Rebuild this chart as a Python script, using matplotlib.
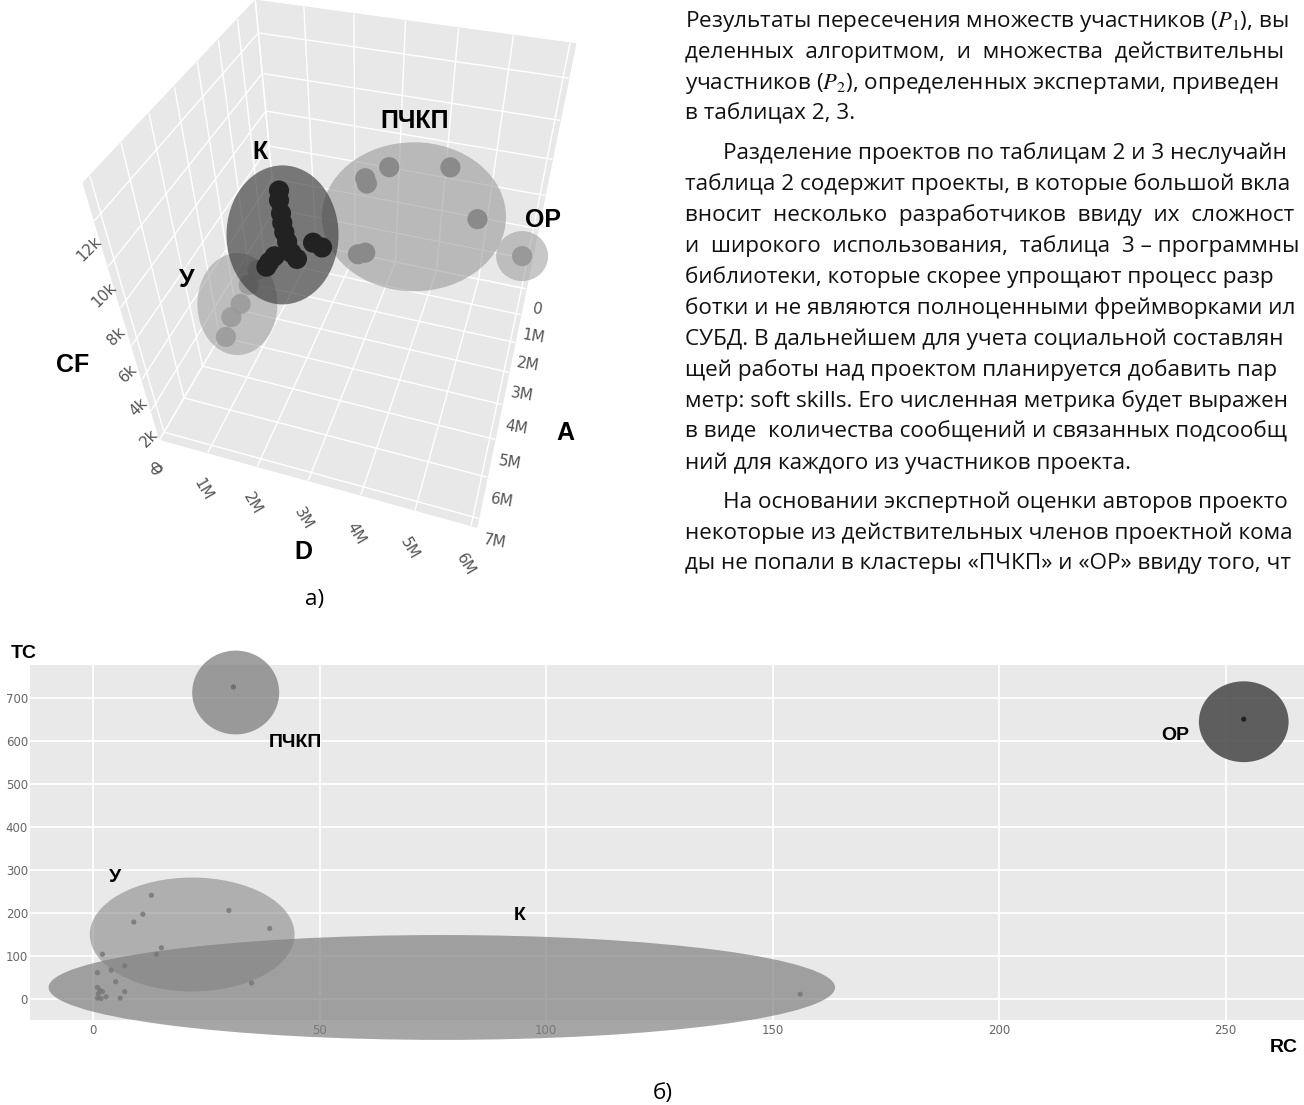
import matplotlib
matplotlib.use("Agg")
import matplotlib.pyplot as plt
from matplotlib.patches import Ellipse
from matplotlib.path import Path
from matplotlib.transforms import Affine2D
from matplotlib.ticker import FuncFormatter, MultipleLocator, NullFormatter
from mpl_toolkits.mplot3d import proj3d

plt.rcParams["mathtext.fontset"] = "stix"
plt.rcParams["grid.color"] = "white"

# ---------------- page text (right column) ----------------
text_lines = [
    "Результаты пересечения множеств участников ($P_1$), вы",
    "деленных  алгоритмом,  и  множества  действительны",
    "участников ($P_2$), определенных экспертами, приведен",
    "в таблицах 2, 3.",
    "Разделение проектов по таблицам 2 и 3 неслучайн",
    "таблица 2 содержит проекты, в которые большой вкла",
    "вносит  несколько  разработчиков  ввиду  их  сложност",
    "и  широкого  использования,  таблица  3 – программны",
    "библиотеки, которые скорее упрощают процесс разр",
    "ботки и не являются полноценными фреймворками ил",
    "СУБД. В дальнейшем для учета социальной составлян",
    "щей работы над проектом планируется добавить пар",
    "метр: soft skills. Его численная метрика будет выражен",
    "в виде  количества сообщений и связанных подсообщ",
    "ний для каждого из участников проекта.",
    "На основании экспертной оценки авторов проекто",
    "некоторые из действительных членов проектной кома",
    "ды не попали в кластеры «ПЧКП» и «ОР» ввиду того, чт",
]
indented = [4, 15]

# ---------------- figure a): 3D scatter D / A / CF ----------------
# values: D and A in millions, CF in thousands
k_d = [0.61, 0.59, 0.61, 0.62, 0.65, 0.70, 0.78, 0.20, 0.35, 0.91, 1.33, 1.54, 0.28]
k_a = [1.2, 1.2, 1.2, 1.2, 1.2, 1.2, 1.2, 1.2, 1.2, 1.2, 1.2, 1.2, 1.6]
k_cf = [5.2, 4.6, 3.8, 3.2, 2.6, 2.0, 1.3, 0.3, 0.8, 0.95, 2.3, 2.1, 0.7]

p_d = [2.82, 4.12, 2.29, 2.33, 4.81, 2.12, 2.30]
p_a = [0.2] * 7
p_cf = [6.3, 6.9, 5.4, 5.1, 4.2, 0.35, 0.57]

u_d = [0.41, 0.61, 0.86, 1.09, 1.31]
u_a = [4.5] * 5
u_cf = [1.3, 2.75, 3.75, 5.05, 6.05]

o_d = [5.9]
o_a = [1.5]
o_cf = [4.6]

# cluster outline centres (D, A, CF) and outline size in px (w, h)
clusters_3d = {
    "У": ((0.79, 4.5, 3.7), (80, 102)),
    "ПЧКП": ((3.42, 0.2, 3.6), (184, 149)),
    "ОР": ((5.9, 1.5, 4.6), (52, 50)),
    "К": ((0.60, 1.2, 2.4), (112, 139)),
}
cf_ticks = [0, 2, 4, 6, 8, 10, 12]

# ---------------- figure б): RC / TC scatter ----------------
rc = [12.9, 11.0, 9.0, 30.0, 39.0, 15.1, 14.0, 2.1, 7.0, 4.0, 1.0, 5.0, 35.0,
      7.0, 6.0, 1.0, 2.1, 1.2, 2.9, 1.8, 1.0, 1.5, 156.1]
tc = [241, 197, 179, 206, 164, 119, 104, 104, 77, 67, 61, 40, 37,
      17, 2, 27, 17, 12, 5, 1, 2, 20, 11]
pchkp_rc, pchkp_tc = [31.0], [726]
or_rc, or_tc = [254.0], [651]

# cluster outlines: centre (RC, TC), width, height (data units)
outlines_2d = [
    ("К", (77.0, 26.7), 173.6, 244, "#808080", 0.70),
    ("У", (21.9, 150.0), 45.2, 265, "#808080", 0.55),
    ("ПЧКП", (31.5, 713.0), 19.2, 195, "#7f7f7f", 0.75),
    ("ОР", (254.0, 645.0), 19.8, 188, "#4f4f4f", 0.90),
]

W, H = 1304, 1105
fig = plt.figure(figsize=(W / 100, H / 100), dpi=100)
fig.patch.set_facecolor("white")


def px(x, y):
    return x / W, 1 - y / H


# ---- text column ----
y = 21
for i, line in enumerate(text_lines):
    if i in indented:
        y += 8
    x0 = 723 if i in indented else 685
    fig.text(*px(x0, y), line, fontsize=16.2, family="Open Sans",
             va="center", ha="left", color="#111111")
    y += 31

# ---- 3D plot ----
ax3 = fig.add_axes([0.0744, 0.5367, 0.3926, 0.4633], projection="3d")
ax3.set_proj_type("persp", focal_length=0.28)
ax3.view_init(elev=42, azim=-73)
ax3.set_xlim(0, 6.1)
ax3.set_ylim(7.2, 0)
ax3.set_zlim(0, 13.5)
ax3.set_box_aspect((1, 1, 1), zoom=1.0925)
ax3.computed_zorder = False
ax3.set_facecolor((1, 1, 1, 0))

for axis in (ax3.xaxis, ax3.yaxis, ax3.zaxis):
    axis.set_pane_color((0.91, 0.91, 0.91, 1.0))
    axis.line.set_color((1, 1, 1, 0))
    axis._axinfo["grid"].update(color="white", linewidth=1.0)
    axis._axinfo["tick"]["inward_factor"] = 0
    axis._axinfo["tick"]["outward_factor"] = 0

ax3.xaxis.set_major_locator(MultipleLocator(1))
ax3.yaxis.set_major_locator(MultipleLocator(1))
ax3.zaxis.set_major_locator(MultipleLocator(2))
fmt_m = FuncFormatter(lambda v, _: "0" if v == 0 else f"{v:.0f}M")
ax3.xaxis.set_major_formatter(fmt_m)
ax3.yaxis.set_major_formatter(fmt_m)
ax3.zaxis.set_major_formatter(NullFormatter())
ax3.tick_params(labelsize=11, labelcolor="#555555", pad=2)
ax3.tick_params(axis="x", labelrotation=-60)
ax3.tick_params(axis="y", labelrotation=-10)

# CF tick labels beside the front-left vertical edge (projected through the 3D view)
M = ax3.get_proj()
for v in cf_ticks:
    xs, ys, _ = proj3d.proj_transform(0.25, 7.85, v, M)
    ax3.annotate("0" if v == 0 else f"{v}k", (xs, ys), xycoords="data", fontsize=11,
                 color="#555555", rotation=45, ha="center", va="center",
                 annotation_clip=False)

outline_style = {
    "У": ("#9a9a9a", 0.55),
    "ПЧКП": ("#9a9a9a", 0.60),
    "ОР": ("#9a9a9a", 0.55),
    "К": ("#3a3a3a", 0.65),
}
for name, ((cd, ca, ccf), (w, h)) in clusters_3d.items():
    m = max(w, h)
    marker = Path.unit_circle().transformed(Affine2D().scale(w / m, h / m))
    col, al = outline_style[name]
    ax3.scatter([cd], [ca], [ccf], s=(m * 0.72) ** 2, marker=marker, color=col,
                alpha=al, edgecolors="none", depthshade=False, zorder=2)

ax3.scatter(u_d, u_a, u_cf, s=210, color="#9c9c9c", alpha=0.9, edgecolors="none",
            depthshade=False, zorder=1)
ax3.scatter(p_d, p_a, p_cf, s=210, color="#8a8a8a", edgecolors="none",
            depthshade=False, zorder=3)
ax3.scatter(o_d, o_a, o_cf, s=210, color="#999999", edgecolors="none",
            depthshade=False, zorder=3)
ax3.scatter(k_d, k_a, k_cf, s=210, color="#222222", edgecolors="none",
            depthshade=False, zorder=4)

bold = dict(fontweight="bold", family="Liberation Sans", ha="center", va="center")
fig.text(*px(260, 152), "К", fontsize=18, **bold)
fig.text(*px(415, 121), "ПЧКП", fontsize=18, **bold)
fig.text(*px(543, 220), "ОР", fontsize=18, **bold)
fig.text(*px(187, 280), "У", fontsize=18, **bold)
fig.text(*px(303, 552), "D", fontsize=18, **bold)
fig.text(*px(565, 433), "A", fontsize=18, **bold)
fig.text(*px(73, 365), "CF", fontsize=18, **bold)

fig.text(*px(315, 600), "а)", fontsize=16.2, family="Open Sans", ha="center", va="center")

# ---- 2D plot ----
ax = fig.add_axes([30 / W, (H - 1020) / H, (W - 30) / W, 355 / H])
ax.set_xlim(-13.9, 267.3)
ax.set_ylim(-49, 777)
ax.set_facecolor("#e9e9e9")
for s in ax.spines.values():
    s.set_visible(False)
ax.set_xticks([0, 50, 100, 150, 200, 250])
ax.set_yticks(range(0, 701, 100))
ax.grid(True, color="white", linewidth=1.3)
ax.set_axisbelow(True)
ax.tick_params(length=0, labelsize=8.5, labelcolor="#666666", pad=3)
ax.tick_params(axis="y", pad=1.5)

for name, (cx, cy), w, h, col, al in outlines_2d:
    ax.add_patch(Ellipse((cx, cy), w, h, facecolor=col, alpha=al,
                         edgecolor="none", clip_on=False, zorder=2))

ax.scatter(rc, tc, s=14, color="#777777", alpha=0.85, edgecolors="none", zorder=3, clip_on=False)
ax.scatter(pchkp_rc, pchkp_tc, s=14, color="#6f6f6f", edgecolors="none", zorder=3)
ax.scatter(or_rc, or_tc, s=14, color="#222222", edgecolors="none", zorder=3)

ax.text(44.6, 597.7, "ПЧКП", fontsize=14, **bold)
ax.text(4.9, 283.0, "У", fontsize=14, **bold)
ax.text(94.1, 195.3, "К", fontsize=14, **bold)
ax.text(238.9, 614.0, "ОР", fontsize=14, **bold)

fig.text(*px(24, 654), "TC", fontsize=14, **bold)
fig.text(*px(1284, 1048), "RC", fontsize=14, **bold)
fig.text(*px(663, 1093), "б)", fontsize=16.2, family="Open Sans", ha="center", va="center")

fig.savefig("out.png", dpi=100)
